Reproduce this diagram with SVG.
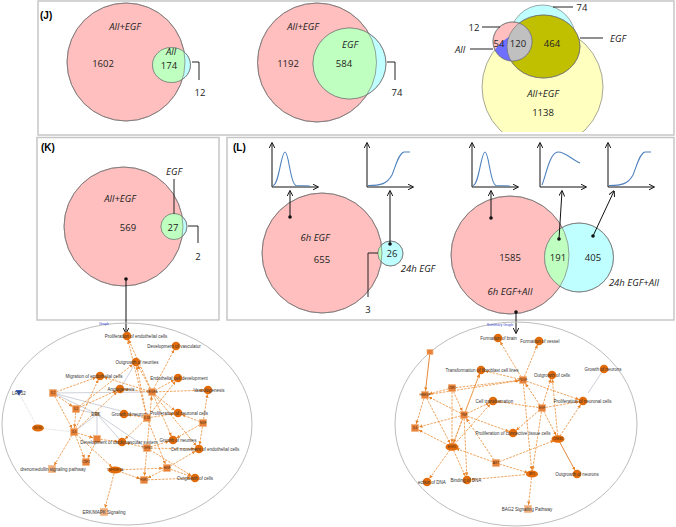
<svg xmlns="http://www.w3.org/2000/svg" width="676" height="527" viewBox="0 0 676 527">
<style>
.fr{fill:none;stroke:#c6c6c6;stroke-width:1.5}
.vs{stroke:#6b6b6b;stroke-width:0.6}
.ol{fill:none;stroke:#6b6b6b;stroke-width:0.6}
.pk{fill:#ffbfbf}
.gr{fill:#bfffbf}
.cy{fill:#bfffff}
.t{font-family:"Open Sans","Liberation Sans",sans-serif;font-size:9.5px;fill:#222;text-anchor:middle}
.i{font-style:italic}
.pl{font-family:"Liberation Sans",sans-serif;font-weight:bold;font-size:10px;fill:#000}
.ld{fill:none;stroke:#222;stroke-width:1}
.ax{stroke:#111;stroke-width:1;fill:none;marker-end:url(#ab)}
.cv{fill:none;stroke:#4f81bd;stroke-width:1.1}
.dot{fill:#111}
.net{fill:none;stroke:#bdbdbd;stroke-width:1}
.e{fill:none;stroke:#eb8b34;stroke-width:0.8;stroke-dasharray:2.4 1.2;marker-end:url(#ao)}
.es{fill:none;stroke:#e07a25;stroke-width:0.9;marker-end:url(#ao)}
.g{fill:none;stroke:#9aa0b4;stroke-width:0.5}
.gd{fill:none;stroke:#b0b0b8;stroke-width:0.5;stroke-dasharray:0.8 0.8}
.fn{fill:#e36c0a}
.gn{fill:#e8823a;stroke:#f3b27c;stroke-width:0.6}
.nl{font-family:"Liberation Sans",sans-serif;font-size:4.5px;fill:#333;text-anchor:middle}
.gl{font-family:"Liberation Sans",sans-serif;font-size:3.2px;fill:#4a2a10;text-anchor:middle}
.bl{font-family:"Liberation Sans",sans-serif;font-size:3.6px;fill:#3344cc;text-anchor:middle}
</style>
<defs>
<marker id="ab" viewBox="0 0 10 10" refX="9" refY="5" markerWidth="6" markerHeight="6" markerUnits="userSpaceOnUse" orient="auto"><path d="M0,0 L10,5 L0,10" fill="none" stroke="#111" stroke-width="1.6"/></marker>
<marker id="ao" viewBox="0 0 10 10" refX="22" refY="5" markerWidth="3.5" markerHeight="3.5" markerUnits="userSpaceOnUse" orient="auto"><path d="M0,0 L10,5 L0,10 z" fill="#e8842a"/></marker>
<clipPath id="c1"><circle cx="126" cy="62" r="59"/></clipPath>
<clipPath id="c2"><circle cx="317" cy="62.5" r="59.5"/></clipPath>
<clipPath id="cy3"><circle cx="542.5" cy="87" r="60.5"/></clipPath>
<clipPath id="ol3"><ellipse cx="543.5" cy="46.5" rx="36.5" ry="31.5"/></clipPath>
<clipPath id="bot"><rect x="38" y="0" width="640" height="132"/></clipPath>
<clipPath id="ck"><circle cx="123.5" cy="226.5" r="59.5"/></clipPath>
<clipPath id="cl1"><circle cx="322" cy="253" r="60"/></clipPath>
<clipPath id="cl2"><circle cx="510" cy="255" r="59"/></clipPath>
</defs>

<!-- frames -->
<g id="frames">
<rect class="fr" x="38" y="1" width="636" height="134"/>
<rect class="fr" x="37" y="137.5" width="182" height="182.5"/>
<rect class="fr" x="227" y="137.5" width="447" height="182.5"/>
<text class="pl" x="40" y="19">(J)</text>
<text class="pl" x="41" y="151">(K)</text>
<text class="pl" x="233" y="151">(L)</text>
</g>

<!-- Panel J -->
<g id="venn-j1">
<circle class="pk vs" cx="126" cy="62" r="59"/>
<ellipse class="cy vs" cx="171.5" cy="65" rx="19" ry="17.5"/>
<ellipse class="gr" cx="171.5" cy="65" rx="19" ry="17.5" clip-path="url(#c1)"/>
<circle class="ol" cx="126" cy="62" r="59"/>
<ellipse class="ol" cx="171.5" cy="65" rx="19" ry="17.5"/>
<text class="t i" x="125" y="30">All+EGF</text>
<text class="t" x="103" y="67">1602</text>
<text class="t i" x="171" y="55">All</text>
<text class="t" x="169" y="68.5">174</text>
<path class="ld" d="M192,62 H199 V80"/>
<text class="t" x="200" y="96">12</text>
</g>
<g id="venn-j2">
<circle class="pk vs" cx="317" cy="62.5" r="59.5"/>
<ellipse class="cy vs" cx="349.5" cy="63.5" rx="36.5" ry="35.5"/>
<ellipse class="gr" cx="349.5" cy="63.5" rx="36.5" ry="35.5" clip-path="url(#c2)"/>
<circle class="ol" cx="317" cy="62.5" r="59.5"/>
<ellipse class="ol" cx="349.5" cy="63.5" rx="36.5" ry="35.5"/>
<text class="t i" x="303" y="30">All+EGF</text>
<text class="t" x="288" y="67">1192</text>
<text class="t i" x="350" y="48">EGF</text>
<text class="t" x="344" y="67">584</text>
<path class="ld" d="M387,62 H395 V80"/>
<text class="t" x="397" y="96">74</text>
</g>
<g id="venn-j3">
<g clip-path="url(#bot)">
<circle cx="542.5" cy="87" r="60.5" fill="#ffffc0" class="vs"/>
</g>
<ellipse class="cy vs" cx="542.5" cy="39" rx="33" ry="34"/>
<ellipse cx="543.5" cy="46.5" rx="36.5" ry="31.5" fill="#c0c000" class="vs"/>
<circle class="pk vs" cx="512.5" cy="41.5" r="19.5"/>
<circle cx="512.5" cy="41.5" r="19.5" fill="#6f6fff" clip-path="url(#cy3)"/>
<circle cx="512.5" cy="41.5" r="19.5" fill="#c0c0c0" clip-path="url(#ol3)"/>
<circle class="ol" cx="512.5" cy="41.5" r="19.5"/>
<ellipse class="ol" cx="543.5" cy="46.5" rx="36.5" ry="31.5"/>
<text class="t" x="499" y="47">54</text>
<text class="t" x="518" y="47">120</text>
<text class="t" x="552" y="47">464</text>
<text class="t i" x="543" y="97">All+EGF</text>
<text class="t" x="543" y="116">1138</text>
<path class="ld" d="M553,7 H573"/>
<text class="t" x="582" y="11">74</text>
<path class="ld" d="M482,27 H500"/>
<text class="t" x="474" y="31">12</text>
<path class="ld" d="M470,49 H493"/>
<text class="t i" x="460" y="53">All</text>
<path class="ld" d="M580,38 H603"/>
<text class="t i" x="618" y="42">EGF</text>
</g>

<!-- Panel K -->
<g id="venn-k">
<circle class="pk vs" cx="123.5" cy="226.5" r="59.5"/>
<circle class="cy vs" cx="174" cy="226.5" r="13"/>
<circle class="gr" cx="174" cy="226.5" r="13" clip-path="url(#ck)"/>
<circle class="ol" cx="123.5" cy="226.5" r="59.5"/>
<circle class="ol" cx="174" cy="226.5" r="13"/>
<text class="t i" x="120" y="202">All+EGF</text>
<text class="t" x="128" y="231">569</text>
<text class="t" x="173" y="231">27</text>
<text class="t i" x="174" y="175">EGF</text>
<path class="ld" d="M174,179 V214"/>
<path class="ld" d="M188,226 H198 V243"/>
<text class="t" x="198" y="260">2</text>
<circle class="dot" cx="126" cy="279" r="1.8"/>
</g>

<!-- Panel L venns -->
<g id="venn-l1">
<circle class="pk vs" cx="322" cy="253" r="60"/>
<circle class="cy vs" cx="390.5" cy="253.5" r="12.5"/>
<circle class="gr" cx="390.5" cy="253.5" r="12.5" clip-path="url(#cl1)"/>
<circle class="ol" cx="322" cy="253" r="60"/>
<circle class="ol" cx="390.5" cy="253.5" r="12.5"/>
<text class="t i" x="315" y="241">6h EGF</text>
<text class="t" x="322" y="263">655</text>
<text class="t" x="392" y="257">26</text>
<text class="t i" x="418" y="272">24h EGF</text>
<path class="ld" d="M378,253 H368 V297"/>
<text class="t" x="368" y="313">3</text>
<circle class="dot" cx="290" cy="217" r="1.8"/>
<circle class="dot" cx="390" cy="244" r="1.8"/>
</g>
<g id="venn-l2">
<circle class="pk vs" cx="510" cy="255" r="59"/>
<circle class="cy vs" cx="579" cy="257.5" r="34.5"/>
<circle class="gr" cx="579" cy="257.5" r="34.5" clip-path="url(#cl2)"/>
<circle class="ol" cx="510" cy="255" r="59"/>
<circle class="ol" cx="579" cy="257.5" r="34.5"/>
<text class="t" x="510" y="261">1585</text>
<text class="t" x="558" y="261">191</text>
<text class="t" x="593" y="261">405</text>
<text class="t i" x="510" y="295">6h EGF+AII</text>
<text class="t i" x="634" y="286">24h EGF+AII</text>
<circle class="dot" cx="491" cy="218" r="1.8"/>
<circle class="dot" cx="559" cy="239" r="1.8"/>
<circle class="dot" cx="593" cy="236" r="1.8"/>
<circle class="dot" cx="516" cy="312" r="1.8"/>
</g>

<!-- mini plots -->
<g id="plot1" transform="translate(272,187)">
<path class="ax" d="M0,0 V-44"/><path class="ax" d="M0,0 H46"/>
<path class="cv" d="M1,-1.5 C7,-2 9,-35 13,-35 C17,-35 18,-3 24,-1.5 L38,-1"/>
</g>
<g id="plot2" transform="translate(367,187)">
<path class="ax" d="M0,0 V-44"/><path class="ax" d="M0,0 H46"/>
<path class="cv" d="M1,-1.5 C14,-1.5 20,-3 25,-12 C29,-22 32,-34 37,-35 L43,-35"/>
</g>
<g id="plot3" transform="translate(472,187)">
<path class="ax" d="M0,0 V-44"/><path class="ax" d="M0,0 H46"/>
<path class="cv" d="M1,-1.5 C7,-2 9,-35 13,-35 C17,-35 18,-3 24,-1.5 L38,-1"/>
</g>
<g id="plot4" transform="translate(540,187)">
<path class="ax" d="M0,0 V-44"/><path class="ax" d="M0,0 H46"/>
<path class="cv" d="M2,-2 C6,-12 10,-35 18,-35 C26,-35 32,-27 40,-24"/>
</g>
<g id="plot5" transform="translate(608,187)">
<path class="ax" d="M0,0 V-44"/><path class="ax" d="M0,0 H46"/>
<path class="cv" d="M1,-1.5 C14,-1.5 20,-3 25,-12 C29,-22 32,-34 37,-35 L43,-35"/>
</g>

<!-- black connectors -->
<g id="connectors-black">
<path class="ax" d="M290,217 V191"/>
<path class="ax" d="M390,244 V191"/>
<path class="ax" d="M491,218 V191"/>
<path class="ax" d="M559,239 L562,191"/>
<path class="ax" d="M593,236 L614,191"/>
<path class="ax" d="M126,279 V333"/>
<path class="ax" d="M516,312 V333"/>
</g>

<!-- Left network -->
<ellipse class="net" cx="127" cy="424" rx="125" ry="101"/>
<text class="bl" x="104" y="325">Graph</text>
<g id="left-edges">
<line class="g" x1="53" y1="393" x2="97" y2="414"/>
<line class="g" x1="53" y1="393" x2="147" y2="418"/>
<line class="g" x1="53" y1="393" x2="152" y2="392"/>
<line class="g" x1="76" y1="409" x2="97" y2="414"/>
<line class="g" x1="97" y1="414" x2="97" y2="439"/>
<line class="g" x1="97" y1="414" x2="122" y2="442"/>
<line class="g" x1="97" y1="414" x2="147" y2="448"/>
<line class="g" x1="74" y1="432" x2="97" y2="414"/>
<line class="g" x1="136" y1="362" x2="120" y2="389"/>
<line class="gd" x1="19" y1="393" x2="38" y2="428"/>
<line class="gd" x1="38" y1="428" x2="74" y2="432"/>
<line class="e" x1="152" y1="392" x2="127" y2="336"/>
<line class="e" x1="152" y1="392" x2="176" y2="346"/>
<line class="e" x1="152" y1="392" x2="136" y2="362"/>
<line class="e" x1="152" y1="392" x2="100" y2="376"/>
<line class="e" x1="152" y1="392" x2="178" y2="378"/>
<line class="e" x1="152" y1="392" x2="120" y2="389"/>
<line class="e" x1="152" y1="392" x2="208" y2="390"/>
<line class="e" x1="152" y1="392" x2="178" y2="413"/>
<line class="e" x1="152" y1="392" x2="173" y2="440"/>
<line class="e" x1="152" y1="392" x2="199" y2="449"/>
<line class="e" x1="53" y1="393" x2="76" y2="409"/>
<line class="e" x1="53" y1="393" x2="74" y2="432"/>
<line class="e" x1="53" y1="393" x2="100" y2="376"/>
<line class="e" x1="76" y1="409" x2="120" y2="389"/>
<line class="e" x1="76" y1="409" x2="74" y2="432"/>
<line class="e" x1="76" y1="409" x2="136" y2="362"/>
<line class="e" x1="74" y1="432" x2="52" y2="469"/>
<line class="e" x1="74" y1="432" x2="86" y2="462"/>
<line class="e" x1="74" y1="432" x2="97" y2="439"/>
<line class="e" x1="74" y1="432" x2="100" y2="376"/>
<line class="e" x1="74" y1="432" x2="115" y2="470"/>
<line class="e" x1="74" y1="432" x2="120" y2="389"/>
<line class="e" x1="97" y1="439" x2="86" y2="462"/>
<line class="e" x1="97" y1="439" x2="122" y2="442"/>
<line class="e" x1="115" y1="470" x2="104" y2="512"/>
<line class="e" x1="115" y1="470" x2="144" y2="480"/>
<line class="e" x1="115" y1="470" x2="167" y2="468"/>
<line class="e" x1="167" y1="468" x2="195" y2="478"/>
<line class="e" x1="167" y1="468" x2="144" y2="480"/>
<line class="e" x1="167" y1="468" x2="199" y2="449"/>
<line class="e" x1="144" y1="480" x2="195" y2="478"/>
<line class="e" x1="147" y1="448" x2="144" y2="480"/>
<line class="e" x1="147" y1="448" x2="122" y2="442"/>
<line class="e" x1="147" y1="448" x2="173" y2="440"/>
<line class="e" x1="147" y1="448" x2="195" y2="478"/>
<line class="e" x1="147" y1="448" x2="199" y2="449"/>
<line class="e" x1="147" y1="448" x2="152" y2="392"/>
<line class="e" x1="203" y1="423" x2="208" y2="390"/>
<line class="e" x1="203" y1="423" x2="199" y2="449"/>
<line class="e" x1="203" y1="423" x2="178" y2="413"/>
<line class="e" x1="203" y1="423" x2="173" y2="440"/>
<line class="e" x1="147" y1="418" x2="178" y2="413"/>
<line class="e" x1="147" y1="418" x2="124" y2="414"/>
<line class="e" x1="147" y1="418" x2="136" y2="362"/>
<line class="e" x1="147" y1="418" x2="178" y2="378"/>
<line class="e" x1="147" y1="418" x2="122" y2="442"/>
<line class="e" x1="147" y1="418" x2="167" y2="468"/>
<line class="e" x1="147" y1="418" x2="127" y2="336"/>
</g>
<g id="left-nodes">
<g id="l-pec"><circle class="fn" cx="127" cy="336" r="4.3"/><text class="nl" x="136" y="337.6">Proliferation of endothelial cells</text></g>
<g id="l-dvas"><circle class="fn" cx="176" cy="346" r="4.3"/><text class="nl" x="174" y="347.6">Development of vasculatur</text></g>
<g id="l-oneu"><circle class="fn" cx="136" cy="362" r="4.3"/><text class="nl" x="137" y="363.6">Outgrowth of neurites</text></g>
<g id="l-mig"><circle class="fn" cx="100" cy="376" r="4.3"/><text class="nl" x="94" y="377.6">Migration of endothelial cells</text></g>
<g id="l-ecd"><circle class="fn" cx="178" cy="378" r="4.3"/><text class="nl" x="179" y="379.6">Endothelial cell development</text></g>
<g id="l-ang"><circle class="fn" cx="120" cy="389" r="4.3"/><text class="nl" x="121" y="390.6">Angiogenesis</text></g>
<g id="l-vegfa"><rect class="gn" x="148.5" y="388.5" width="7" height="7"/><text class="gl" x="152" y="393.2">VEGFA</text></g>
<g id="l-vasc"><circle class="fn" cx="208" cy="390" r="4.3"/><text class="nl" x="209" y="391.6">Vasculogenesis</text></g>
<g id="l-lrp"><polygon points="15.5,390 22.5,390 19,396" fill="#3a62c8"/><text class="nl" x="19" y="394.6">LRP52</text></g>
<g id="l-il2"><rect class="gn" x="49.5" y="389.5" width="7" height="7"/><text class="gl" x="53" y="394.2">IL2</text></g>
<g id="l-il1"><rect class="gn" x="72.5" y="405.5" width="7" height="7"/><text class="gl" x="76" y="410.2">IL1</text></g>
<g id="l-erk"><rect x="95" y="412" width="4" height="4" fill="#d9a070"/><text class="nl" x="96" y="415.6">ERK</text></g>
<g id="l-gneu"><circle class="fn" cx="124" cy="414" r="4.3"/><text class="nl" x="130" y="415.6">Growth of neurons</text></g>
<g id="l-pnc"><circle class="fn" cx="178" cy="413" r="4.3"/><text class="nl" x="179" y="414.6">Proliferation of neuronal cells</text></g>
<g id="l-il1b"><rect class="gn" x="143.5" y="414.5" width="7" height="7"/><text class="gl" x="147" y="419.2">IL1B</text></g>
<g id="l-ngf"><rect class="gn" x="199.5" y="419.5" width="7" height="7"/><text class="gl" x="203" y="424.2">NGF</text></g>
<g id="l-edn"><ellipse class="fn" cx="38" cy="428" rx="6" ry="3.5"/><text class="gl" x="38" y="429.2">EDN1</text></g>
<g id="l-il6"><rect class="gn" x="70.5" y="428.5" width="7" height="7"/><text class="gl" x="74" y="433.2">IL6</text></g>
<g id="l-pdgfb"><rect class="gn" x="93.5" y="435.5" width="7" height="7"/></g>
<g id="l-dcs"><circle class="fn" cx="122" cy="442" r="4.3"/><text class="nl" x="119" y="443.6">Development of cardiovascular system</text></g>
<g id="l-gnt"><circle class="fn" cx="173" cy="440" r="4.3"/><text class="nl" x="178" y="441.6">Growth of neurites</text></g>
<g id="l-tgfb"><rect class="gn" x="143.5" y="444.5" width="7" height="7"/><text class="gl" x="147" y="449.2">TGFB1</text></g>
<g id="l-cme"><circle class="fn" cx="199" cy="449" r="4.3"/><text class="nl" x="205" y="450.6">Cell movement of endothelial cells</text></g>
<g id="l-csf2"><rect class="gn" x="82.5" y="458.5" width="7" height="7"/><text class="gl" x="86" y="463.2">CSF2</text></g>
<g id="l-adm"><rect class="gn" x="48.5" y="465.5" width="7" height="7" style="fill:#f0b080"/><text class="nl" x="53" y="470.6">drenomedullin signaling pathway</text></g>
<g id="l-tnfr"><ellipse class="fn" cx="115" cy="470" rx="7" ry="3.5"/><text class="gl" x="115" y="471.2">TNFRSF1A</text></g>
<g id="l-hgf"><rect class="gn" x="163.5" y="464.5" width="7" height="7"/><text class="gl" x="167" y="469.2">HGF</text></g>
<g id="l-fgf2"><rect class="gn" x="140.5" y="476.5" width="7" height="7"/><text class="gl" x="144" y="481.2">FGF2</text></g>
<g id="l-ocel"><circle class="fn" cx="195" cy="478" r="4.3"/><text class="nl" x="195" y="479.6">Outgrowth of cells</text></g>
<g id="l-mapk"><rect class="gn" x="100.5" y="508.5" width="7" height="7" style="fill:#f0b080"/><text class="nl" x="104" y="513.6">ERK/MAPK Signaling</text></g>
</g>

<!-- Right network -->
<ellipse class="net" cx="516" cy="424" rx="121" ry="102"/>
<text class="bl" x="500" y="326">Summary Graph</text>
<g id="right-edges">
<line class="g" x1="604" y1="369" x2="588" y2="393"/>
<line class="es" x1="430" y1="352" x2="425" y2="395"/>
<line class="e" x1="523" y1="380" x2="498" y2="338"/>
<line class="e" x1="523" y1="380" x2="539" y2="341"/>
<line class="e" x1="523" y1="380" x2="481" y2="370"/>
<line class="e" x1="523" y1="380" x2="583" y2="401"/>
<line class="e" x1="523" y1="380" x2="532" y2="474"/>
<line class="e" x1="425" y1="395" x2="523" y2="380"/>
<line class="e" x1="452" y1="388" x2="523" y2="380"/>
<line class="e" x1="542" y1="408" x2="552" y2="375"/>
<line class="e" x1="542" y1="408" x2="583" y2="401"/>
<line class="e" x1="542" y1="408" x2="513" y2="433"/>
<line class="e" x1="542" y1="408" x2="493" y2="401"/>
<line class="e" x1="542" y1="408" x2="558" y2="439"/>
<line class="e" x1="542" y1="408" x2="532" y2="474"/>
<line class="e" x1="542" y1="408" x2="523" y2="380"/>
<line class="es" x1="558" y1="439" x2="577" y2="474"/>
<line class="e" x1="558" y1="439" x2="552" y2="375"/>
<line class="e" x1="558" y1="439" x2="583" y2="401"/>
<line class="e" x1="496" y1="463" x2="558" y2="439"/>
<line class="e" x1="496" y1="463" x2="532" y2="474"/>
<line class="e" x1="496" y1="463" x2="452" y2="447"/>
<line class="e" x1="496" y1="463" x2="464" y2="415"/>
<line class="e" x1="464" y1="415" x2="513" y2="433"/>
<line class="e" x1="464" y1="415" x2="452" y2="447"/>
<line class="e" x1="464" y1="415" x2="425" y2="395"/>
<line class="e" x1="464" y1="415" x2="415" y2="428"/>
<line class="e" x1="464" y1="415" x2="467" y2="480"/>
<line class="e" x1="464" y1="415" x2="481" y2="370"/>
<line class="e" x1="464" y1="415" x2="493" y2="401"/>
<line class="e" x1="452" y1="447" x2="427" y2="482"/>
<line class="e" x1="452" y1="447" x2="467" y2="480"/>
<line class="e" x1="452" y1="447" x2="493" y2="401"/>
<line class="e" x1="452" y1="447" x2="415" y2="428"/>
<line class="e" x1="452" y1="447" x2="481" y2="370"/>
<line class="e" x1="452" y1="388" x2="464" y2="415"/>
<line class="e" x1="452" y1="388" x2="452" y2="447"/>
<line class="e" x1="452" y1="388" x2="425" y2="395"/>
<line class="e" x1="425" y1="395" x2="452" y2="447"/>
<line class="e" x1="425" y1="395" x2="415" y2="428"/>
<line class="e" x1="532" y1="474" x2="528" y2="509"/>
<line class="e" x1="532" y1="474" x2="467" y2="480"/>
</g>
<g id="right-nodes">
<g id="r-top"><rect class="gn" x="427" y="349.5" width="6" height="5"/></g>
<g id="r-fbrain"><circle class="fn" cx="498" cy="338" r="4.3"/><text class="nl" x="498.5" y="339.6">Formation of brain</text></g>
<g id="r-fves"><circle class="fn" cx="539" cy="341" r="4.3"/><text class="nl" x="540" y="342.6">Formation of vessel</text></g>
<g id="r-tfib"><circle class="fn" cx="481" cy="370" r="4.3"/><text class="nl" x="482" y="371.6">Transformation of fibroblast cell lines</text></g>
<g id="r-pdgf"><rect class="gn" x="519.5" y="376.5" width="7" height="7"/><text class="gl" x="523" y="381.2">PDGF</text></g>
<g id="r-ocel"><circle class="fn" cx="552" cy="375" r="4.3"/><text class="nl" x="552" y="376.6">Outgrowth of cells</text></g>
<g id="r-gneu"><circle class="fn" cx="604" cy="369" r="4.3"/><text class="nl" x="603" y="370.6">Growth of neurons</text></g>
<g id="r-csf"><rect class="gn" x="448.5" y="384.5" width="7" height="7"/><text class="gl" x="452" y="389.2">CSF2</text></g>
<g id="r-hbegf"><rect class="gn" x="421.5" y="391.5" width="7" height="7"/><text class="gl" x="425" y="396.2">HBEGF</text></g>
<g id="r-celltr"><circle class="fn" cx="493" cy="401" r="4.3"/><text class="nl" x="494.5" y="402.6">Cell transformation</text></g>
<g id="r-egf"><rect class="gn" x="538.5" y="404.5" width="7" height="7"/><text class="gl" x="542" y="409.2">EGF</text></g>
<g id="r-pnc"><circle class="fn" cx="583" cy="401" r="4.3"/><text class="nl" x="582.5" y="402.6">Proliferation of neuronal cells</text></g>
<g id="r-tnf"><rect class="gn" x="460.5" y="411.5" width="7" height="7"/><text class="gl" x="464" y="416.2">TNF</text></g>
<g id="r-il6"><rect class="gn" x="411.5" y="424.5" width="7" height="7"/><text class="gl" x="415" y="429.2">IL6</text></g>
<g id="r-pct"><circle class="fn" cx="513" cy="433" r="4.3"/><text class="nl" x="513" y="434.6">Proliferation of connective tissue cells</text></g>
<g id="r-creb"><ellipse class="fn" cx="558" cy="439" rx="6.5" ry="3.8"/><text class="gl" x="558" y="440.2">CREB1</text></g>
<g id="r-egr1"><ellipse class="fn" cx="452" cy="447" rx="6.5" ry="3.8"/><text class="gl" x="452" y="448.2">EGR1</text></g>
<g id="r-agt"><rect class="gn" x="492.5" y="459.5" width="7" height="7"/><text class="gl" x="496" y="464.2">AGT</text></g>
<g id="r-sp1"><ellipse class="fn" cx="532" cy="474" rx="6" ry="3.6"/><text class="gl" x="532" y="475.2">SP1</text></g>
<g id="r-bdna"><circle class="fn" cx="467" cy="480" r="4.3"/><text class="nl" x="466" y="481.6">Binding of DNA</text></g>
<g id="r-fdna"><circle class="fn" cx="427" cy="482" r="4.3"/><text class="nl" x="432" y="483.6">ection of DNA</text></g>
<g id="r-ogn"><circle class="fn" cx="577" cy="474" r="4.3"/><text class="nl" x="577" y="475.6">Outgrowth of neurons</text></g>
<g id="r-bag2"><rect class="gn" x="524.5" y="505.5" width="7" height="7" style="fill:#f0b080"/><text class="nl" x="527" y="510.6">BAG2 Signaling Pathway</text></g>
</g>
</svg>
